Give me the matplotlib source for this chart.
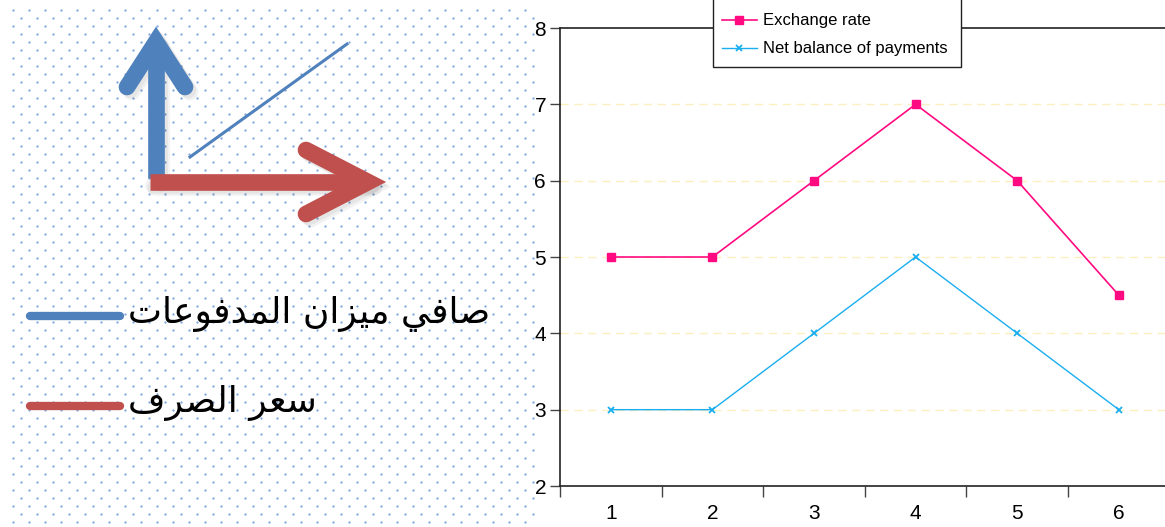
import matplotlib.pyplot as plt
from matplotlib.patches import Rectangle
import numpy as np

# chart data
periods = [1, 2, 3, 4, 5, 6]
exchange_rate = [5, 5, 6, 7, 6, 4.5]
net_balance = [3, 3, 4, 5, 4, 3]
series_labels = ["Exchange rate", "Net balance of payments"]
y_ticks = [2, 3, 4, 5, 6, 7, 8]

# arabic key on the left panel
key_labels = ["صافي ميزان المدفوعات", "سعر الصرف"]
key_colors = ["#4f81bd", "#c0504d"]

# presentation forms: isolated, final, initial, medial
FORMS = {
    "ا": (0xFE8D, 0xFE8E, None, None),
    "ت": (0xFE95, 0xFE96, 0xFE97, 0xFE98),
    "د": (0xFEA9, 0xFEAA, None, None),
    "ر": (0xFEAD, 0xFEAE, None, None),
    "ز": (0xFEAF, 0xFEB0, None, None),
    "س": (0xFEB1, 0xFEB2, 0xFEB3, 0xFEB4),
    "ص": (0xFEB9, 0xFEBA, 0xFEBB, 0xFEBC),
    "ع": (0xFEC9, 0xFECA, 0xFECB, 0xFECC),
    "ف": (0xFED1, 0xFED2, 0xFED3, 0xFED4),
    "ل": (0xFEDD, 0xFEDE, 0xFEDF, 0xFEE0),
    "م": (0xFEE1, 0xFEE2, 0xFEE3, 0xFEE4),
    "ن": (0xFEE5, 0xFEE6, 0xFEE7, 0xFEE8),
    "و": (0xFEED, 0xFEEE, None, None),
    "ي": (0xFEF1, 0xFEF2, 0xFEF3, 0xFEF4),
}


def shape_arabic(text):
    out = []
    for i, ch in enumerate(text):
        if ch not in FORMS:
            out.append(ch)
            continue
        prev = text[i - 1] if i > 0 else " "
        nxt = text[i + 1] if i + 1 < len(text) else " "
        joins_prev = prev in FORMS and FORMS[prev][2] is not None
        joins_next = nxt in FORMS and FORMS[ch][2] is not None
        iso, fin, ini, med = FORMS[ch]
        if joins_prev and joins_next:
            code = med
        elif joins_prev:
            code = fin
        elif joins_next:
            code = ini
        else:
            code = iso
        out.append(chr(code))
    return "".join(out)[::-1]


W, H = 1165, 527
fig = plt.figure(figsize=(W / 100, H / 100), dpi=100)
fig.patch.set_facecolor("white")

# ---------------- left decorative panel ----------------
bg = fig.add_axes([0, 0, 1, 1])
bg.set_xlim(0, W)
bg.set_ylim(H, 0)
bg.axis("off")

for r, yy in enumerate(np.arange(10, 527, 8)):
    xs = np.arange(12.5 + (8 if r % 2 else 0), 536, 16)
    bg.scatter(xs, np.full_like(xs, yy), s=2.6, color="#7ea3d8", linewidths=0)


def arrow(ax, x0, y0, x1, y1, w1, w2, color):
    # soft shadow
    for dx in (3, 5):
        ax.plot([x0 + dx, x1 + dx], [y0 + dx, y1 + dx], color="#000000", alpha=0.05,
                lw=12, solid_capstyle="round")
        ax.plot([w1[0] + dx, x1 + dx, w2[0] + dx], [w1[1] + dx, y1 + dx, w2[1] + dx],
                color="#000000", alpha=0.05, lw=12, solid_capstyle="round",
                solid_joinstyle="miter")
    ax.plot([x0, x1], [y0, y1], color=color, lw=12, solid_capstyle="butt")
    ax.plot([w1[0], x1, w2[0]], [w1[1], y1, w2[1]], color=color, lw=12,
            solid_capstyle="round", solid_joinstyle="miter")


arrow(bg, 156, 178, 156, 42, (127, 87), (185, 87), key_colors[0])
arrow(bg, 150, 182, 368, 182, (306, 150), (306, 214), key_colors[1])
bg.plot([190, 347], [157, 44], color=key_colors[0], lw=2.2)

for lab, col, yl, yt in zip(key_labels, key_colors, [316, 406], [323, 412]):
    bg.plot([30, 120], [yl, yl], color=col, lw=6, solid_capstyle="round")
    bg.text(128, yt, shape_arabic(lab), ha="left", va="baseline", fontsize=26,
            family="DejaVu Sans", color="black")

# ---------------- line chart ----------------
plt.rcParams["font.family"] = ["Liberation Sans Narrow", "Liberation Sans", "DejaVu Sans"]
x_left, x_right = 560, 560 + 6 * 101.6
y_top, y_bot = 28, 486
ax = fig.add_axes([x_left / W, 1 - y_bot / H, (x_right - x_left) / W, (y_bot - y_top) / H])
ax.patch.set_alpha(0)

ax.plot(periods, exchange_rate, color="#ff0a80", lw=1.2, marker="s", ms=6,
        label=series_labels[0])
ax.plot(periods, net_balance, color="#1aaef0", lw=1.0, marker="x", ms=5, mew=1.3,
        label=series_labels[1])

ax.set_xlim(0.5, 6.5)
ax.set_ylim(2, 8)
ax.set_yticks(y_ticks)
ax.set_yticklabels([str(v) for v in y_ticks], fontsize=15)
ax.set_xticks(np.arange(0.5, 7, 1))
ax.set_xticklabels([])
ax.set_xticks(periods, minor=True)
ax.set_xticklabels([str(p) for p in periods], minor=True, fontsize=15)
ax.tick_params(axis="x", which="major", length=8, width=1, color="#444444", direction="out")
ax.tick_params(axis="x", which="minor", length=0, pad=13)
ax.tick_params(axis="y", length=7, width=1, color="#444444", pad=3)

for yv in y_ticks[1:-1]:
    ax.axhline(yv, color="#fcefc0", lw=1, ls=(0, (6, 4)), zorder=0)

for s in ax.spines.values():
    s.set_color("#222222")
    s.set_linewidth(1.2)

# legend box runs off the top of the image, as in the original
box = Rectangle((713 / W, 1 - 67 / H), (961 - 713) / W, 80 / H, transform=fig.transFigure,
                facecolor="white", edgecolor="#222222", lw=1.0, clip_on=False, zorder=5)
ax.add_artist(box)

leg = ax.legend(loc="lower left", bbox_to_anchor=(714 / W, 1 - 64 / H),
                bbox_transform=fig.transFigure, fontsize=12, frameon=False,
                handlelength=2.1, handletextpad=0.4,
                borderpad=0.45, labelspacing=0.78, borderaxespad=0)
leg.set_zorder(6)

fig.savefig("out.png", dpi=100)
